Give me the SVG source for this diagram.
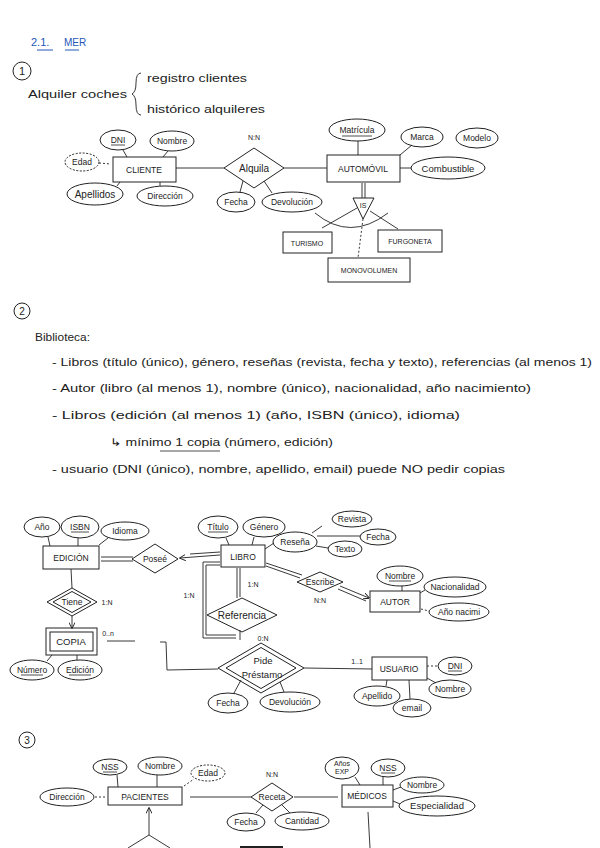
<svg xmlns="http://www.w3.org/2000/svg" width="600" height="848" viewBox="0 0 600 848">
<defs>
<style>
text{font-family:"Liberation Sans","DejaVu Sans",sans-serif;fill:#222;}
.p{font-size:10.5px;}
.a{font-size:8.5px;text-anchor:middle;}
.n{font-size:8.5px;text-anchor:middle;}
.c{font-size:7px;text-anchor:middle;}
.e{fill:none;stroke:#222;stroke-width:1;}
.ed{fill:none;stroke:#222;stroke-width:1;stroke-dasharray:2 1.5;}
.r{fill:none;stroke:#222;stroke-width:1;}
.l{fill:none;stroke:#222;stroke-width:0.9;}
.d{fill:none;stroke:#222;stroke-width:0.9;stroke-dasharray:2 2;}
.u{stroke:#222;stroke-width:0.8;}
.b{fill:#2456b8;}
</style>
<marker id="ah" viewBox="0 0 10 10" refX="9" refY="5" markerWidth="7" markerHeight="7" orient="auto-start-reverse"><path d="M0,0 L10,5 L0,10" fill="none" stroke="#222" stroke-width="1.5"/></marker>
</defs>
<rect width="600" height="848" fill="#fff"/>

<g id="heading">
<text x="31" y="46" class="b" style="font-size:11px">2.1.</text>
<text x="64" y="46" class="b" style="font-size:10px">MER</text>
<line x1="37" y1="50" x2="53" y2="50" stroke="#2456b8"/>
<line x1="65" y1="50" x2="79" y2="50" stroke="#2456b8"/>
</g>

<g id="sec1-intro">
<circle cx="22" cy="71" r="9" class="e"/>
<text x="22" y="75" class="a" style="font-size:11px">1</text>
<text x="28" y="98" class="p" textLength="99" lengthAdjust="spacingAndGlyphs">Alquiler coches</text>
<path d="M141,73 Q136,73 136,83 Q136,92 132,94 Q136,96 136,105 Q136,115 141,115" class="l"/>
<text x="147" y="82" class="p" textLength="100" lengthAdjust="spacingAndGlyphs">registro clientes</text>
<text x="147" y="113" class="p" textLength="118" lengthAdjust="spacingAndGlyphs">histórico alquileres</text>
</g>

<g id="connectors">
<!-- diagram 1 -->
<line x1="176" y1="168" x2="224" y2="168" class="l"/>
<line x1="284" y1="168" x2="327" y2="168" class="l"/>
<line x1="123" y1="150" x2="127" y2="157" class="l"/>
<line x1="168" y1="151" x2="163" y2="157" class="l"/>
<line x1="99" y1="163" x2="111" y2="164" class="d"/>
<line x1="117" y1="186" x2="120" y2="182" class="l"/>
<line x1="160" y1="186" x2="160" y2="182" class="l"/>
<line x1="243" y1="181" x2="240" y2="192" class="l"/>
<line x1="264" y1="181" x2="272" y2="193" class="l"/>
<line x1="358" y1="141" x2="358" y2="155" class="l"/>
<line x1="400" y1="155" x2="412" y2="145" class="l"/>
<line x1="400" y1="168" x2="411" y2="168" class="l"/>
<line x1="362" y1="183" x2="362" y2="198" class="l"/>
<line x1="365" y1="183" x2="365" y2="198" class="l"/>
<line x1="357" y1="208" x2="322" y2="228" class="l"/>
<line x1="370" y1="211" x2="398" y2="229" class="l"/>
<line x1="363" y1="219" x2="358" y2="258" class="d"/>
<path d="M315,213 Q350,242 388,213" class="l"/>
<!-- diagram 2 -->
<line x1="48" y1="537" x2="50" y2="546" class="l"/>
<line x1="78" y1="538" x2="78" y2="546" class="l"/>
<line x1="108" y1="538" x2="99" y2="545" class="l"/>
<line x1="101" y1="557" x2="133" y2="557" class="l"/>
<line x1="101" y1="561" x2="133" y2="561" class="l"/>
<line x1="220" y1="555" x2="180" y2="558" class="l" marker-end="url(#ah)"/>
<line x1="220" y1="552" x2="190" y2="554" class="l"/>
<line x1="226" y1="538" x2="229" y2="545" class="l"/>
<line x1="254" y1="537" x2="252" y2="545" class="l"/>
<line x1="265" y1="549" x2="274" y2="543" class="l"/>
<line x1="312" y1="533" x2="322" y2="526" class="l"/>
<line x1="317" y1="536" x2="360" y2="536" class="l"/>
<line x1="316" y1="546" x2="328" y2="548" class="l"/>
<line x1="266" y1="563" x2="302" y2="575" class="l"/>
<line x1="266" y1="566" x2="300" y2="578" class="l"/>
<line x1="340" y1="586" x2="369" y2="598" class="l" marker-end="url(#ah)"/>
<line x1="338" y1="589" x2="366" y2="601" class="l"/>
<line x1="402" y1="586" x2="402" y2="591" class="l"/>
<line x1="420" y1="593" x2="425" y2="590" class="l"/>
<line x1="421" y1="609" x2="429" y2="611" class="d"/>
<line x1="237" y1="568" x2="237" y2="598" class="l"/>
<line x1="240" y1="568" x2="240" y2="597" class="l"/>
<path d="M220,562 L203,562 L203,638 L236,638" class="l"/>
<path d="M220,565 L206,565 L206,635 L236,635" class="l"/>
<line x1="240" y1="630" x2="240" y2="640" class="l"/>
<line x1="71" y1="569" x2="72" y2="588" class="l"/>
<line x1="72" y1="616" x2="72" y2="628" class="l" marker-end="url(#ah)"/>
<line x1="52" y1="655" x2="47" y2="661" class="l"/>
<line x1="77" y1="655" x2="77" y2="660" class="l"/>
<path d="M107,641 L135,641 M160,642 L166,642 L167,670 L218,669" class="l"/>
<line x1="241" y1="680" x2="234" y2="693" class="l"/>
<line x1="280" y1="682" x2="284" y2="692" class="l"/>
<line x1="304" y1="668" x2="372" y2="669" class="l"/>
<line x1="427" y1="666" x2="438" y2="666" class="d"/>
<line x1="427" y1="678" x2="436" y2="683" class="l"/>
<line x1="387" y1="680" x2="386" y2="686" class="l"/>
<line x1="409" y1="680" x2="410" y2="699" class="l"/>
<!-- diagram 3 -->
<line x1="117" y1="775" x2="118" y2="787" class="l"/>
<line x1="157" y1="775" x2="157" y2="787" class="l"/>
<line x1="184" y1="786" x2="194" y2="779" class="d"/>
<line x1="95" y1="797" x2="106" y2="797" class="d"/>
<line x1="190" y1="797" x2="251" y2="797" class="l"/>
<line x1="294" y1="797" x2="338" y2="797" class="l"/>
<line x1="263" y1="805" x2="256" y2="813" class="l"/>
<line x1="282" y1="805" x2="290" y2="813" class="l"/>
<line x1="355" y1="777" x2="360" y2="785" class="l"/>
<line x1="383" y1="777" x2="383" y2="785" class="l"/>
<line x1="393" y1="790" x2="401" y2="787" class="l"/>
<line x1="393" y1="801" x2="400" y2="804" class="l"/>
<line x1="149" y1="835" x2="149" y2="808" class="l" marker-end="url(#ah)"/>
<line x1="149" y1="835" x2="128" y2="848" class="l"/>
<line x1="149" y1="835" x2="170" y2="848" class="l"/>
<line x1="240" y1="847" x2="283" y2="847" stroke="#222" stroke-width="2.2"/>
<line x1="368" y1="812" x2="370" y2="848" class="l"/>
</g>

<!-- Diagram 1 nodes -->
<g id="cliente"><rect x="113" y="157" width="63" height="25" class="r"/><text x="144" y="173" class="n">CLIENTE</text></g>
<g id="c-dni"><ellipse cx="118" cy="140" rx="18" ry="10" class="e"/><text x="118" y="143" class="a">DNI</text><line x1="111" y1="145" x2="125" y2="145" class="u"/></g>
<g id="c-nombre"><ellipse cx="172" cy="141" rx="22" ry="10" class="e"/><text x="172" y="144" class="a">Nombre</text></g>
<g id="c-edad"><ellipse cx="82" cy="162" rx="17" ry="9" class="ed"/><text x="82" y="165" class="a">Edad</text></g>
<g id="c-apellidos"><ellipse cx="95" cy="194" rx="28" ry="11" class="e"/><text x="95" y="198" class="a" style="font-size:10px">Apellidos</text></g>
<g id="c-direccion"><ellipse cx="165" cy="196" rx="28" ry="10" class="e"/><text x="165" y="199" class="a">Dirección</text></g>
<g id="alquila"><polygon points="224,168 254,148 284,168 254,188" class="r"/><text x="254" y="172" class="a" style="font-size:10px">Alquila</text><text x="254" y="140" class="c">N:N</text></g>
<g id="al-fecha"><ellipse cx="236" cy="202" rx="19" ry="10" class="e"/><text x="236" y="205" class="a">Fecha</text></g>
<g id="al-devolucion"><ellipse cx="292" cy="202" rx="30" ry="10" class="e"/><text x="292" y="205" class="a">Devolución</text></g>
<g id="automovil"><rect x="327" y="155" width="73" height="27" class="r"/><text x="363" y="172" class="n">AUTOMÓVIL</text></g>
<g id="a-matricula"><ellipse cx="357" cy="130" rx="28" ry="11" class="e"/><text x="357" y="133" class="a">Matrícula</text><line x1="342" y1="136" x2="372" y2="136" class="u"/></g>
<g id="a-marca"><ellipse cx="422" cy="137" rx="21" ry="10" class="e"/><text x="422" y="140" class="a">Marca</text></g>
<g id="a-modelo"><ellipse cx="477" cy="138" rx="21" ry="10" class="e"/><text x="477" y="141" class="a">Modelo</text></g>
<g id="a-combustible"><ellipse cx="448" cy="168" rx="37" ry="11" class="e"/><text x="448" y="172" class="a" style="font-size:9.5px">Combustible</text></g>
<g id="isa"><polygon points="353,198 374,198 363,219" class="r"/><text x="363" y="208" class="c">IS</text></g>
<g id="turismo"><rect x="283" y="232" width="49" height="21" class="r"/><text x="307" y="246" class="c">TURISMO</text></g>
<g id="furgoneta"><rect x="378" y="230" width="64" height="22" class="r"/><text x="410" y="244" class="c">FURGONETA</text></g>
<g id="monovolumen"><rect x="328" y="258" width="82" height="24" class="r"/><text x="369" y="273" class="c">MONOVOLUMEN</text></g>

<!-- Section 2 text -->
<g id="sec2-text">
<circle cx="22" cy="311" r="8" class="e"/>
<text x="22" y="315" class="a" style="font-size:10px">2</text>
<text x="35" y="341" class="p" textLength="55" lengthAdjust="spacingAndGlyphs">Biblioteca:</text>
<text x="52" y="366" class="p" textLength="540" lengthAdjust="spacingAndGlyphs">- Libros (título (único), género, reseñas (revista, fecha y texto), referencias (al menos 1)</text>
<text x="52" y="392" class="p" textLength="479" lengthAdjust="spacingAndGlyphs">- Autor (libro (al menos 1), nombre (único), nacionalidad, año nacimiento)</text>
<text x="52" y="419" class="p" textLength="408" lengthAdjust="spacingAndGlyphs">- Libros (edición (al menos 1) (año, ISBN (único), idioma)</text>
<text x="110" y="446" class="p" textLength="223" lengthAdjust="spacingAndGlyphs">↳ mínimo 1 copia (número, edición)</text>
<line x1="160" y1="451" x2="220" y2="451" class="u"/>
<text x="52" y="473" class="p" textLength="453" lengthAdjust="spacingAndGlyphs">- usuario (DNI (único), nombre, apellido, email) puede NO pedir copias</text>
</g>

<!-- Diagram 2 nodes -->
<g id="edicion"><rect x="43" y="546" width="56" height="23" class="r"/><text x="71" y="561" class="n">EDICIÓN</text></g>
<g id="e-ano"><ellipse cx="42" cy="527" rx="18" ry="10" class="e"/><text x="42" y="530" class="a">Año</text></g>
<g id="e-isbn"><ellipse cx="80" cy="527" rx="19" ry="11" class="e"/><text x="80" y="530" class="a">ISBN</text><line x1="71" y1="532" x2="89" y2="532" class="u"/></g>
<g id="e-idioma"><ellipse cx="125" cy="531" rx="24" ry="9" class="e"/><text x="125" y="534" class="a">Idioma</text></g>
<g id="posee"><polygon points="132,559 155,544 178,559 155,573" class="r"/><text x="155" y="562" class="a">Poseé</text></g>
<g id="libro"><rect x="221" y="545" width="44" height="22" class="r"/><text x="243" y="560" class="n">LIBRO</text></g>
<g id="l-titulo"><ellipse cx="218" cy="527" rx="20" ry="11" class="e"/><text x="218" y="530" class="a">Título</text><line x1="208" y1="532" x2="228" y2="532" class="u"/></g>
<g id="l-genero"><ellipse cx="264" cy="527" rx="21" ry="10" class="e"/><text x="264" y="530" class="a">Género</text></g>
<g id="l-resena"><ellipse cx="295" cy="542" rx="22" ry="10" class="e"/><text x="295" y="545" class="a">Reseña</text></g>
<g id="r-revista"><ellipse cx="352" cy="519" rx="20" ry="8" class="e"/><text x="352" y="522" class="a">Revista</text></g>
<g id="r-fecha"><ellipse cx="378" cy="537" rx="18" ry="8" class="e"/><text x="378" y="540" class="a">Fecha</text></g>
<g id="r-texto"><ellipse cx="345" cy="549" rx="17" ry="8" class="e"/><text x="345" y="552" class="a">Texto</text></g>
<g id="escribe"><polygon points="297,582 320,572 343,582 320,592" class="r"/><text x="320" y="585" class="a">Escribe</text><text x="320" y="603" class="c">N:N</text></g>
<g id="autor"><rect x="370" y="591" width="50" height="21" class="r"/><text x="395" y="605" class="n">AUTOR</text></g>
<g id="au-nombre"><ellipse cx="400" cy="576" rx="23" ry="10" class="e"/><text x="400" y="579" class="a">Nombre</text><line x1="389" y1="581" x2="411" y2="581" class="u"/></g>
<g id="au-nacionalidad"><ellipse cx="455" cy="587" rx="31" ry="10" class="e"/><text x="455" y="590" class="a">Nacionalidad</text></g>
<g id="au-ano"><ellipse cx="459" cy="612" rx="30" ry="9" class="e"/><text x="459" y="615" class="a">Año nacimi</text></g>
<g id="referencia"><polygon points="207,615 242,598 277,615 242,632" class="r"/><text x="242" y="619" class="a" style="font-size:10px">Referencia</text><text x="253" y="587" class="c">1:N</text><text x="189" y="598" class="c">1:N</text></g>
<g id="tiene"><polygon points="47,602 72,588 97,602 72,616" class="r"/><polygon points="53,602 72,591.5 91,602 72,612.5" class="r"/><text x="72" y="605" class="a">Tiene</text><text x="107" y="605" class="c">1:N</text></g>
<g id="copia"><rect x="46" y="628" width="51" height="27" class="r"/><rect x="50" y="632" width="43" height="19" class="r"/><text x="71" y="645" class="n" style="font-size:9.5px">COPIA</text><text x="108" y="636" class="c">0..n</text></g>
<g id="co-numero"><ellipse cx="32" cy="670" rx="22" ry="10" class="e"/><text x="32" y="673" class="a">Número</text><line x1="21" y1="675" x2="43" y2="675" class="u"/></g>
<g id="co-edicion"><ellipse cx="80" cy="670" rx="22" ry="10" class="e"/><text x="80" y="673" class="a">Edición</text><line x1="69" y1="675" x2="91" y2="675" class="u"/></g>
<g id="pide-prestamo"><polygon points="218,668 261,643 304,668 261,693" class="r"/><polygon points="226,668 261,647.5 296,668 261,688.5" class="r"/><text x="263" y="664" class="a" style="font-size:9.5px">Pide</text><text x="262" y="678" class="a" style="font-size:9.5px">Préstamo</text><text x="263" y="641" class="c">0:N</text></g>
<g id="pp-fecha"><ellipse cx="228" cy="703" rx="20" ry="10" class="e"/><text x="228" y="706" class="a">Fecha</text></g>
<g id="pp-devolucion"><ellipse cx="290" cy="702" rx="30" ry="10" class="e"/><text x="290" y="705" class="a">Devolución</text></g>
<g id="usuario"><rect x="372" y="657" width="55" height="23" class="r"/><text x="399" y="672" class="n">USUARIO</text><text x="357" y="664" class="c">1..1</text></g>
<g id="u-dni"><ellipse cx="455" cy="666" rx="17" ry="9" class="e"/><text x="455" y="669" class="a">DNI</text><line x1="448" y1="671" x2="462" y2="671" class="u"/></g>
<g id="u-nombre"><ellipse cx="450" cy="689" rx="21" ry="9" class="e"/><text x="450" y="692" class="a">Nombre</text></g>
<g id="u-apellido"><ellipse cx="377" cy="696" rx="23" ry="10" class="e"/><text x="377" y="699" class="a">Apellido</text></g>
<g id="u-email"><ellipse cx="412" cy="708" rx="19" ry="9" class="e"/><text x="412" y="711" class="a">email</text></g>

<!-- Section 3 -->
<g id="sec3-label"><circle cx="27" cy="740" r="8" class="e"/><text x="27" y="744" class="a" style="font-size:10px">3</text></g>
<g id="pacientes"><rect x="108" y="787" width="74" height="18" class="r"/><text x="145" y="800" class="n">PACIENTES</text></g>
<g id="p-nss"><ellipse cx="110" cy="767" rx="17" ry="8" class="e"/><text x="110" y="770" class="a">NSS</text><line x1="103" y1="772" x2="117" y2="772" class="u"/></g>
<g id="p-nombre"><ellipse cx="160" cy="766" rx="22" ry="9" class="e"/><text x="160" y="769" class="a">Nombre</text></g>
<g id="p-edad"><ellipse cx="208" cy="773" rx="17" ry="8" class="ed"/><text x="208" y="776" class="a">Edad</text></g>
<g id="p-direccion"><ellipse cx="67" cy="797" rx="27" ry="9" class="e"/><text x="67" y="800" class="a">Dirección</text></g>
<g id="receta"><polygon points="251,797 272,783 293,797 272,811" class="r"/><text x="272" y="800" class="a">Receta</text><text x="272" y="777" class="c">N:N</text></g>
<g id="re-fecha"><ellipse cx="246" cy="822" rx="19" ry="9" class="e"/><text x="246" y="825" class="a">Fecha</text></g>
<g id="re-cantidad"><ellipse cx="302" cy="821" rx="27" ry="9" class="e"/><text x="302" y="824" class="a">Cantidad</text></g>
<g id="medicos"><rect x="342" y="785" width="51" height="22" class="r"/><text x="367" y="799" class="n">MÉDICOS</text></g>
<g id="m-anos"><ellipse cx="342" cy="768" rx="17" ry="11" class="e"/><text x="342" y="766" class="c">Años</text><text x="342" y="774" class="c">EXP</text></g>
<g id="m-nss"><ellipse cx="388" cy="768" rx="17" ry="9" class="e"/><text x="388" y="771" class="a">NSS</text><line x1="381" y1="773" x2="395" y2="773" class="u"/></g>
<g id="m-nombre"><ellipse cx="422" cy="785" rx="22" ry="8" class="e"/><text x="422" y="788" class="a">Nombre</text></g>
<g id="m-especialidad"><ellipse cx="437" cy="806" rx="38" ry="10" class="e"/><text x="437" y="809" class="a" style="font-size:9.5px">Especialidad</text></g>
</svg>
